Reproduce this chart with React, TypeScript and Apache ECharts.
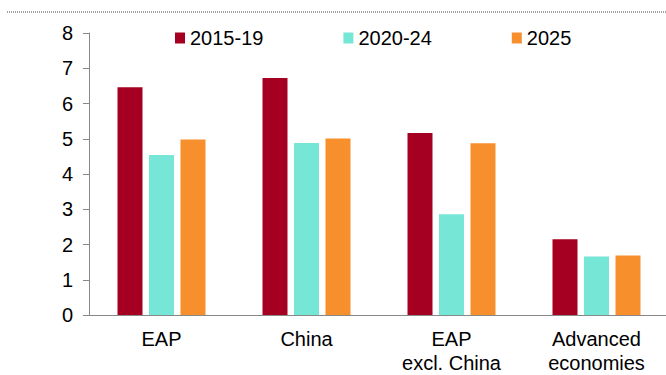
import React, { useEffect, useRef } from "react";
import * as echarts from "echarts";

const categories = ["EAP", "China", "EAP\nexcl. China", "Advanced\neconomies"];
const seriesNames = ["2015-19", "2020-24", "2025"];
const values2015_19 = [6.46, 6.72, 5.16, 2.15];
const values2020_24 = [4.54, 4.88, 2.86, 1.66];
const values2025 = [4.98, 5.01, 4.87, 1.69];
const colors = ["#A50021", "#76E6D6", "#F78F2C"];
const yTicks = { min: 0, max: 8, interval: 1 };

const FONT = "'Liberation Sans', Arial, sans-serif";

export default function App() {
  const ref = useRef<HTMLDivElement>(null);

  useEffect(() => {
    if (!ref.current) return;
    const chart = echarts.init(ref.current, null, { renderer: "svg" });
    const seriesData = [values2015_19, values2020_24, values2025];
    chart.setOption({
      animation: false,
      textStyle: { fontFamily: FONT, color: "#000" },
      graphic: [
        {
          type: "line",
          shape: { x1: 7, y1: 12, x2: 666, y2: 12 },
          style: { stroke: "#444", lineWidth: 1, lineDash: [1, 1] },
        },
      ],
      legend: {
        top: 23,
        left: 170,
        itemWidth: 10,
        itemHeight: 11,
        itemGap: 80,
        icon: "rect",
        textStyle: { fontFamily: FONT, fontSize: 20, color: "#000" },
        data: seriesNames,
      },
      grid: { left: 89, top: 33, bottom: 60, width: 580, outerBoundsMode: "none", containLabel: false },
      xAxis: {
        type: "category",
        data: categories,
        axisLine: { lineStyle: { color: "#888", width: 1 } },
        axisTick: { show: false },
        axisLabel: {
          fontFamily: FONT,
          fontSize: 20,
          color: "#000",
          margin: 12,
          lineHeight: 24,
          interval: 0,
        },
      },
      yAxis: {
        type: "value",
        min: yTicks.min,
        max: yTicks.max,
        interval: yTicks.interval,
        splitLine: { show: false },
        axisLine: { show: true, lineStyle: { color: "#888", width: 1 } },
        axisTick: { show: true, length: 6, lineStyle: { color: "#888" } },
        axisLabel: { fontFamily: FONT, fontSize: 20, color: "#000", margin: 16 },
      },
      series: seriesNames.map((name, i) => ({
        name,
        type: "bar",
        data: seriesData[i],
        barWidth: 25,
        barGap: "26%",
        itemStyle: { color: colors[i] },
      })),
    });
    return () => chart.dispose();
  }, []);

  return <div ref={ref} style={{ width: 666, height: 375, position: "absolute", left: 0, top: 0 }} />;
}
